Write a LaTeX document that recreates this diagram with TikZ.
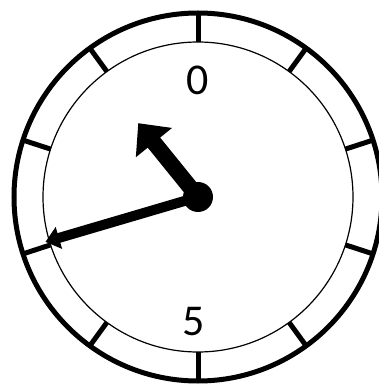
\documentclass[tikz,border=0pt]{standalone}
\usepackage{fontspec}
\setmainfont{Carlito}
\usetikzlibrary{arrows.meta}

\begin{document}
\begin{tikzpicture}[x=1pt,y=1pt,
  rim/.style={line width=5pt},
  tickmark/.style={line width=5pt},
  digit/.style={font=\fontsize{44}{44}\selectfont,inner sep=0pt}]
  \clip (-198,-188) rectangle (181,197);

  % dial
  \draw[rim] (0,0) circle (184);
  \draw[line width=1.2pt] (0,0) circle (155);

  % ticks
  \draw[tickmark] (90:155)--(90:184);   \draw[tickmark] (126:155)--(126:184);
  \draw[tickmark] (162:155)--(162:184); \draw[tickmark] (198:155)--(198:184);
  \draw[tickmark] (234:155)--(234:184); \draw[tickmark] (270:155)--(270:184);
  \draw[tickmark] (306:155)--(306:184); \draw[tickmark] (342:155)--(342:184);
  \draw[tickmark] (18:155)--(18:184);   \draw[tickmark] (54:155)--(54:184);

  % numbers
  \node[digit] (zero) at (0,117) {0};
  \node[digit] (five) at (-4,-125) {5};

  % hands
  \coordinate (hub) at (0,0);
  \coordinate (shorttip) at (129:95);
  \coordinate (longtip) at (196.4:159);
  \draw[line width=16pt,-{Triangle[width=45pt,length=25pt]}] (hub)--(shorttip);
  \draw[line width=10pt,-{Triangle[width=22pt,length=14pt]}] (hub)--(longtip);
  \fill (hub) circle (15);
\end{tikzpicture}
\end{document}
